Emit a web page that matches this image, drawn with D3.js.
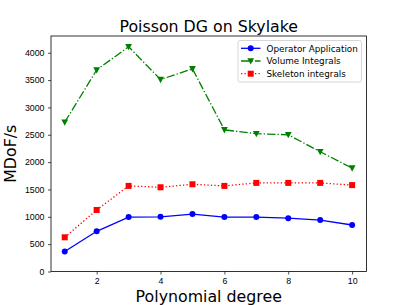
<!DOCTYPE html>
<html>
<head>
<meta charset="utf-8">
<title>Poisson DG on Skylake</title>
<style type="text/css">
	body { margin: 0; background: #fff; }
	svg { display: block; font-family: "DejaVu Sans", sans-serif; }
	.tick text { font-size: 8.8px; fill: #000; }
	.domain { display: none; }
</style>
<script src="https://cdn.jsdelivr.net/npm/d3@7/dist/d3.min.js"></script>
</head>
<body>
<div id="chart"></div>
<script type="text/javascript">
// polynomial degree on x
var degrees = [1, 2, 3, 4, 5, 6, 7, 8, 9, 10];
// MDoF/s values
var operatorApplication = [365, 735, 995, 1000, 1050, 995, 995, 975, 940, 850];
var volumeIntegrals = [2730, 3685, 4110, 3510, 3705, 2590, 2520, 2500, 2190, 1890];
var skeletonIntegrals = [625, 1125, 1565, 1540, 1595, 1565, 1620, 1620, 1620, 1580];
var xTicks = [2, 4, 6, 8, 10];
var yTicks = [0, 500, 1000, 1500, 2000, 2500, 3000, 3500, 4000];

var width = 407, height = 305;
// plot box (window.top is taken, so keep own names)
var plotL = 51, plotR = 366.5, plotT = 36, plotB = 271.5;

var svg = d3.select('#chart').append('svg')
		.attr('width', width)
		.attr('height', height);

var x = d3.scaleLinear().domain([0.57, 10.45]).range([plotL, plotR]);
var y = d3.scaleLinear().domain([0, 4306]).range([plotB, plotT]);

// axes
svg.append('g')
		.attr('transform', 'translate(0,' + plotB + ')')
		.call(d3.axisBottom(x).tickValues(xTicks).tickSize(3).tickPadding(3.5).tickFormat(d3.format('d')))
	.selectAll('line').attr('stroke', '#000').attr('stroke-width', 0.7);

svg.append('g')
		.attr('transform', 'translate(' + plotL + ',0)')
		.call(d3.axisLeft(y).tickValues(yTicks).tickSize(3).tickPadding(3.5).tickFormat(d3.format('d')))
	.selectAll('line').attr('stroke', '#000').attr('stroke-width', 0.7);

svg.append('rect')
		.attr('x', plotL).attr('y', plotT)
		.attr('width', plotR - plotL).attr('height', plotB - plotT)
		.attr('fill', 'none').attr('stroke', '#000').attr('stroke-width', 0.8);

var series = [
	{ name: 'Operator Application', values: operatorApplication, color: '#0000ff', dash: null, marker: 'circle' },
	{ name: 'Volume Integrals', values: volumeIntegrals, color: '#008000', dash: '8.4,2.1,1.3,2.1', marker: 'tri' },
	{ name: 'Skeleton integrals', values: skeletonIntegrals, color: '#ff0000', dash: '1.3,2.2', marker: 'square' }
];

var line = d3.line()
		.x(function(d, i) { return x(degrees[i]); })
		.y(function(d) { return y(d); });

var drawMarker = function(g, kind, cx, cy, color) {
	if (kind == 'circle')
		g.append('circle').attr('cx', cx).attr('cy', cy).attr('r', 3).attr('fill', color);
	else if (kind == 'square')
		g.append('rect').attr('x', cx - 3).attr('y', cy - 3).attr('width', 6).attr('height', 6).attr('fill', color);
	else
		g.append('path').attr('d', 'M' + (cx - 3.4) + ',' + (cy - 2.8) + 'L' + (cx + 3.4) + ',' + (cy - 2.8) + 'L' + cx + ',' + (cy + 3.6) + 'Z').attr('fill', color);
};

series.forEach(function(s) {
	svg.append('path')
			.datum(s.values)
			.attr('d', line)
			.attr('fill', 'none')
			.attr('stroke', s.color)
			.attr('stroke-width', 1.3)
			.attr('stroke-dasharray', s.dash);
	var g = svg.append('g');
	s.values.forEach(function(v, i) {
		drawMarker(g, s.marker, x(degrees[i]), y(v), s.color);
	});
});

// legend
var legend = svg.append('g');
legend.append('rect')
		.attr('x', 238).attr('y', 40.5)
		.attr('width', 123.5).attr('height', 41.5)
		.attr('rx', 2)
		.attr('fill', '#fff').attr('fill-opacity', 0.8)
		.attr('stroke', '#cccccc').attr('stroke-width', 0.8);

series.forEach(function(s, i) {
	var ly = 48.3 + i * 12.7;
	legend.append('line')
			.attr('x1', 241).attr('x2', 260.5)
			.attr('y1', ly).attr('y2', ly)
			.attr('stroke', s.color).attr('stroke-width', 1.3)
			.attr('stroke-dasharray', s.dash);
	drawMarker(legend, s.marker, 250.7, ly, s.color);
	legend.append('text')
			.attr('x', 266.5).attr('y', ly + 3.2)
			.attr('font-size', 8.8)
			.text(s.name);
});

// titles
svg.append('text')
		.attr('x', (plotL + plotR) / 2).attr('y', 31.5)
		.attr('text-anchor', 'middle')
		.attr('font-size', 15.8)
		.text('Poisson DG on Skylake');

svg.append('text')
		.attr('x', (plotL + plotR) / 2).attr('y', 302)
		.attr('text-anchor', 'middle')
		.attr('font-size', 15.8)
		.text('Polynomial degree');

svg.append('text')
		.attr('transform', 'translate(16,' + ((plotT + plotB) / 2) + ') rotate(-90)')
		.attr('text-anchor', 'middle')
		.attr('font-size', 15.8)
		.text('MDoF/s');
</script>
</body>
</html>
